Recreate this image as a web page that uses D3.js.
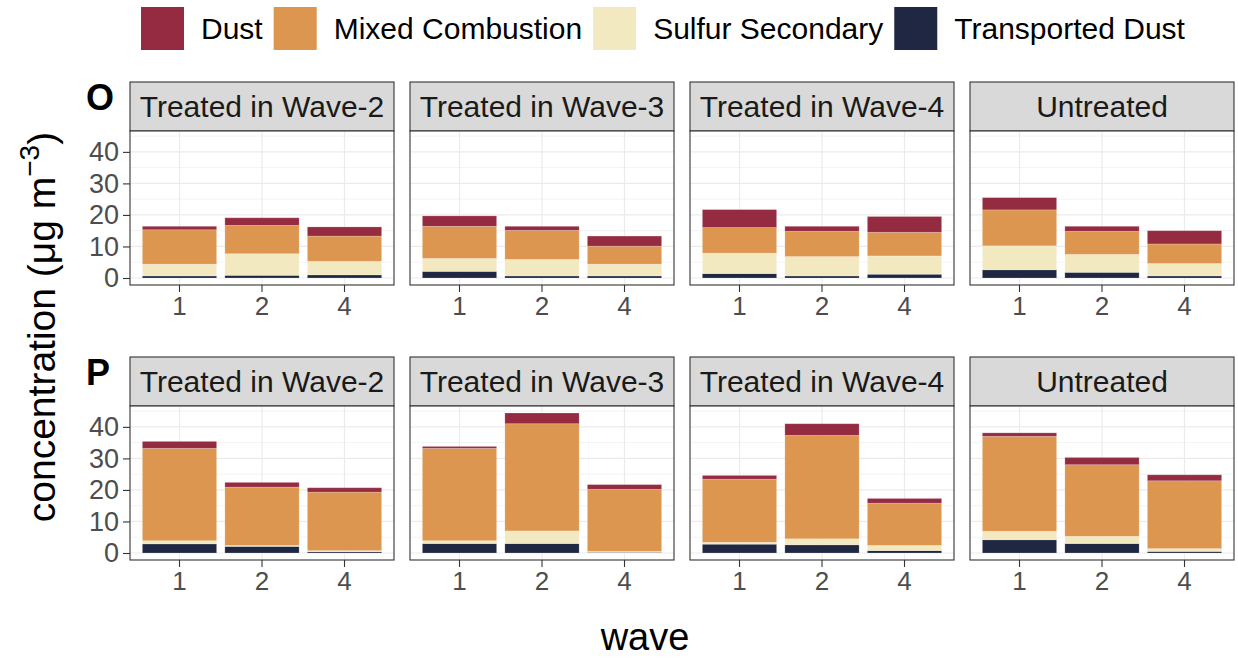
<!DOCTYPE html>
<html>
<head>
<meta charset="utf-8">
<script src="https://cdn.jsdelivr.net/npm/d3@7"></script>
<style>
  html, body { margin: 0; padding: 0; background: #ffffff; }
  svg { display: block; font-family: "Liberation Sans", Arial, Helvetica, sans-serif; }
</style>
</head>
<body>
<svg id="chart" width="1238" height="660"></svg>
<script>
// Facet rows (tagged panels), facet columns and x categories
const rowTags = ["O", "P"];
const groups = ["Treated in Wave-2", "Treated in Wave-3", "Treated in Wave-4", "Untreated"];
const waves = ["1", "2", "4"];
const sources = ["Dust", "Mixed Combustion", "Sulfur Secondary", "Transported Dust"];
const sourceColors = ["#952B41", "#DD9650", "#F3E9C1", "#1F2742"];

// Source contributions (µg m-3), ordered row O then row P,
// each row by group, each group by wave 1, 2, 4
const transportedDust = [0.65, 0.85, 1.0,  2.1, 0.65, 0.65,  1.4, 0.65, 1.2,  2.6, 1.8, 0.65,
                         2.9, 2.1, 0.4,   3.0, 3.0, 0.2,   2.8, 2.6, 0.75,  4.2, 3.0, 0.5];
const sulfurSecondary = [3.75, 6.85, 4.3,  4.1, 5.25, 3.75,  6.5, 6.15, 5.8,  7.6, 5.7, 3.95,
                         1.0, 0.3, 0.35,  0.9, 4.0, 0.3,   0.6, 1.9, 1.65,  2.7, 2.3, 0.9];
const mixedCombustion = [10.9, 9.0, 8.0,   10.2, 9.2, 5.7,   8.1, 8.0, 7.5,   11.4, 7.3, 6.2,
                         29.3, 18.5, 18.55, 29.3, 34.0, 19.7, 20.0, 32.8, 13.4, 30.1, 22.7, 21.5];
const dust            = [1.1, 2.4, 2.9,   3.3, 1.3, 3.2,   5.7, 1.6, 5.0,   3.9, 1.6, 4.2,
                         2.2, 1.5, 1.4,   0.6, 3.4, 1.5,   1.2, 3.7, 1.5,   1.1, 2.3, 1.9];

const yTicks = [0, 10, 20, 30, 40];

// Flat table of bars
const records = [];
rowTags.forEach((r, ri) => groups.forEach((g, gi) => waves.forEach((w, wi) => {
  const i = ri * groups.length * waves.length + gi * waves.length + wi;
  records.push({
    row: r, group: g, wave: w,
    "Transported Dust": transportedDust[i],
    "Sulfur Secondary": sulfurSecondary[i],
    "Mixed Combustion": mixedCombustion[i],
    "Dust": dust[i]
  });
})));

const stackKeys = ["Transported Dust", "Sulfur Secondary", "Mixed Combustion", "Dust"];
const color = d3.scaleOrdinal().domain(sources).range(sourceColors);

const svg = d3.select("#chart");
const font = "\"Liberation Sans\", Arial, Helvetica, sans-serif";

// Panel geometry
const panelLeft = [130, 410, 690, 970];
const panelW = 264;
const stripTop = [82, 357];
const stripH = 49;
const panelH = 154;

const totals = records.map(d => stackKeys.reduce((s, k) => s + d[k], 0));
const yMax = d3.max(totals);
const yDomain = [-0.05 * yMax, 1.05 * yMax];

const x = d3.scaleBand().domain(waves).range([0, panelW]).paddingInner(0.1).paddingOuter(0.15);

rowTags.forEach((r, ri) => {
  const pTop = stripTop[ri] + stripH;
  const y = d3.scaleLinear().domain(yDomain).range([pTop + panelH, pTop]);
  const minorTicks = d3.range(5, 50, 10).filter(v => v > yDomain[0] && v < yDomain[1]);

  // row tag
  svg.append("text")
    .attr("x", 86).attr("y", stripTop[ri] + 28)
    .attr("font-size", 36).attr("font-weight", "bold").attr("fill", "#000")
    .text(r);

  groups.forEach((g, gi) => {
    const px = panelLeft[gi];
    const panel = svg.append("g").attr("transform", `translate(${px},0)`);

    // strip
    panel.append("rect")
      .attr("x", 0).attr("y", stripTop[ri]).attr("width", panelW).attr("height", stripH)
      .attr("fill", "#D9D9D9").attr("stroke", "#333333").attr("stroke-width", 1.1);
    panel.append("text")
      .attr("x", panelW / 2).attr("y", stripTop[ri] + stripH / 2)
      .attr("dy", "0.36em").attr("text-anchor", "middle")
      .attr("font-size", 30).attr("fill", "#1A1A1A")
      .text(g);

    // background + grid
    panel.append("rect")
      .attr("x", 0).attr("y", pTop).attr("width", panelW).attr("height", panelH)
      .attr("fill", "#ffffff");
    panel.selectAll(".minor").data(minorTicks).join("line")
      .attr("x1", 0).attr("x2", panelW)
      .attr("y1", d => y(d)).attr("y2", d => y(d))
      .attr("stroke", "#EBEBEB").attr("stroke-width", 0.6);
    panel.selectAll(".major").data(yTicks).join("line")
      .attr("x1", 0).attr("x2", panelW)
      .attr("y1", d => y(d)).attr("y2", d => y(d))
      .attr("stroke", "#EBEBEB").attr("stroke-width", 1.2);
    panel.selectAll(".vgrid").data(waves).join("line")
      .attr("x1", d => x(d) + x.bandwidth() / 2).attr("x2", d => x(d) + x.bandwidth() / 2)
      .attr("y1", pTop).attr("y2", pTop + panelH)
      .attr("stroke", "#EBEBEB").attr("stroke-width", 1.2);

    // stacked bars
    const sub = records.filter(d => d.row === r && d.group === g);
    const series = d3.stack().keys(stackKeys)(sub);
    panel.selectAll(".layer").data(series).join("g")
      .attr("fill", s => color(s.key))
      .selectAll("rect").data(s => s).join("rect")
        .attr("x", d => x(d.data.wave))
        .attr("width", x.bandwidth())
        .attr("y", d => y(d[1]))
        .attr("height", d => y(d[0]) - y(d[1]))
        .attr("stroke", "rgba(255,255,255,0.25)").attr("stroke-width", 0.8);

    // panel border
    panel.append("rect")
      .attr("x", 0).attr("y", pTop).attr("width", panelW).attr("height", panelH)
      .attr("fill", "none").attr("stroke", "#333333").attr("stroke-width", 1.1);

    // x axis
    const xa = panel.append("g")
      .attr("transform", `translate(0,${pTop + panelH})`)
      .call(d3.axisBottom(x).tickSize(7).tickPadding(5));
    xa.select(".domain").remove();
    xa.selectAll(".tick line").attr("stroke", "#333333").attr("stroke-width", 1.1);
    xa.selectAll(".tick text").attr("font-size", 26).attr("fill", "#4D4D4D")
      .attr("font-family", font);

    // y axis on first column only
    if (gi === 0) {
      const ya = panel.append("g")
        .call(d3.axisLeft(y).tickValues(yTicks).tickSize(7).tickPadding(4));
      ya.select(".domain").remove();
      ya.selectAll(".tick line").attr("stroke", "#333333").attr("stroke-width", 1.1);
      ya.selectAll(".tick text").attr("font-size", 27).attr("fill", "#4D4D4D")
        .attr("font-family", font);
    }
  });
});

// axis titles
svg.append("text")
  .attr("x", 645).attr("y", 650)
  .attr("text-anchor", "middle").attr("font-size", 38).attr("fill", "#000")
  .text("wave");

const yTitle = svg.append("text")
  .attr("transform", "translate(55,327) rotate(-90)")
  .attr("text-anchor", "middle").attr("font-size", 39).attr("fill", "#000");
yTitle.append("tspan").text("concentration (μg m");
yTitle.append("tspan").attr("font-size", 28).attr("dy", -16).text("−3");
yTitle.append("tspan").attr("dy", 16).text(")");

// legend
const legend = svg.append("g");
let lx = 141;
sources.forEach(s => {
  legend.append("rect")
    .attr("x", lx).attr("y", 7).attr("width", 43).attr("height", 43)
    .attr("fill", color(s));
  const t = legend.append("text")
    .attr("x", lx + 60).attr("y", 28).attr("dy", "0.36em")
    .attr("font-size", 30).attr("fill", "#000")
    .text(s);
  lx = lx + 60 + t.node().getComputedTextLength() + 11;
});
</script>
</body>
</html>
